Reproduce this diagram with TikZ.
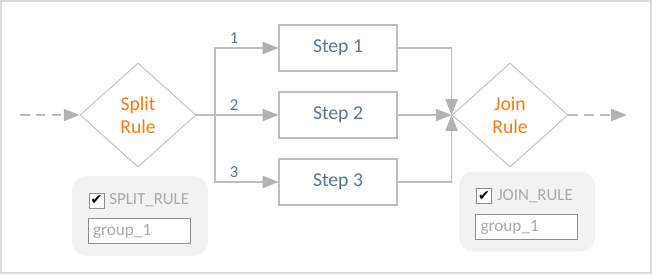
\documentclass[tikz,border=0pt]{standalone}
\usepackage{fontspec}
\setmainfont{Carlito}
\newfontfamily\symfont{DejaVu Sans}
\usepackage{tikz}
\usetikzlibrary{arrows.meta, positioning, shapes.geometric}
\usepackage{xcolor}
\definecolor{linegray}{HTML}{BDBDBD}
\definecolor{tipgray}{HTML}{B2B2B2}
\definecolor{framegray}{HTML}{DADADA}
\definecolor{grpfill}{HTML}{F2F2F2}
\definecolor{steptext}{HTML}{5A7592}
\definecolor{ruleorange}{HTML}{F57A10}
\definecolor{grptext}{HTML}{AAAAAA}
\definecolor{fieldline}{HTML}{8E8E8E}

\begin{document}
\begin{tikzpicture}[
    x=0.02cm, y=-0.02cm,
    rule/.style={diamond, draw=linegray, line width=0.5pt, inner sep=0pt,
                 minimum width=2.32cm, minimum height=2.08cm, align=center,
                 text=ruleorange, font=\fontsize{11.2}{13.1}\selectfont},
    stepbox/.style={draw=linegray, line width=0.6pt, minimum width=2.36cm,
                    minimum height=0.92cm, text=steptext,
                    font=\fontsize{11.2}{13.5}\selectfont},
    arr/.style={-{Triangle[length=9pt, width=7pt, color=tipgray]},
                line width=0.6pt, linegray},
    dasharr/.style={arr, dash pattern=on 5.5pt off 3.5pt},
    lbl/.style={above=1pt, text=steptext, inner sep=1pt,
                font=\fontsize{9.5}{11}\selectfont},
    grp/.style={fill=grpfill, rounded corners=8pt, minimum width=2.72cm,
                minimum height=1.6cm},
    chkbox/.style={draw=fieldline, fill=white, line width=0.5pt,
                   minimum size=0.3cm, inner sep=0pt,
                   font=\symfont\fontsize{8}{8}\selectfont},
    grptxt/.style={anchor=west, text=grptext, inner sep=0pt,
                   font=\fontsize{9.6}{11}\selectfont},
    field/.style={draw=fieldline, fill=white, line width=0.5pt,
                  text width=1.84cm, inner xsep=0.1cm, minimum height=0.44cm,
                  align=left, text=grptext, font=\fontsize{9.8}{11}\selectfont}
  ]
    \useasboundingbox (0,0) rectangle (653,275);
    \draw[framegray, line width=1pt] (1,1) rectangle (651,273);

    % rule options
    \node[grp] (splitgrp) at (140,216) {};
    \node[chkbox] (splitcb) at (96.5,200.5) {✔};
    \node[grptxt] (splittxt) at (109,200.5) {SPLIT\_RULE};
    \node[field] (splitfield) at (139,231) {group\_1};

    \node[grp] (joingrp) at (527,211.5) {};
    \node[chkbox] (joincb) at (484,196) {✔};
    \node[grptxt] (jointxt) at (497,196) {JOIN\_RULE};
    \node[field] (joinfield) at (526.5,227) {group\_1};

    % flow
    \node[rule] (split) at (138,115) {Split\\Rule};
    \node[rule] (join) at (510,115) {Join\\Rule};
    \node[stepbox] (s1) at (338,48) {Step 1};
    \node[stepbox] (s2) at (338,115) {Step 2};
    \node[stepbox] (s3) at (338,182) {Step 3};

    \coordinate (in) at (20,115);
    \coordinate (out) at (627,115);
    \coordinate (fork) at (215,115);

    \draw[dasharr] (in) -- (split.west);
    \draw[dasharr] (join.east) -- (out);
    \draw[line width=0.6pt, linegray] (split.east) -- (fork);
    \draw[arr] (fork) |- node[lbl, pos=0.65] (l1) {1} (s1.west);
    \draw[arr] (fork) -- node[lbl, pos=0.3] (l2) {2} (s2.west);
    \draw[arr] (fork) |- node[lbl, pos=0.65] (l3) {3} (s3.west);
    \draw[arr] (s1.east) -| (join.west);
    \draw[arr] (s2.east) -- (join.west);
    \draw[arr] (s3.east) -| (join.west);
  \end{tikzpicture}
\end{document}
